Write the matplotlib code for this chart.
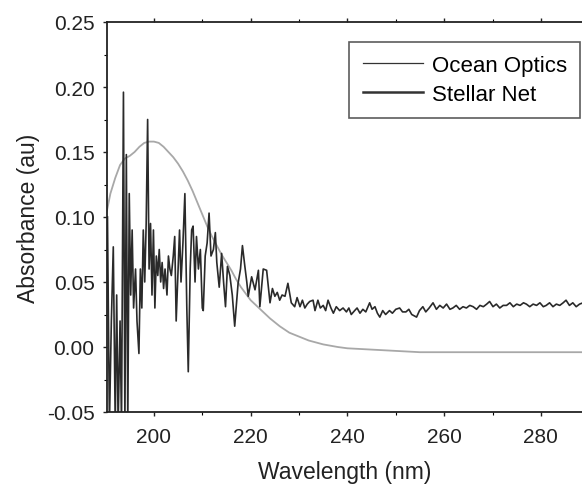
import matplotlib
matplotlib.use("Agg")
import matplotlib.pyplot as plt
from matplotlib.ticker import MultipleLocator

plt.rcParams['font.family'] = ['Liberation Sans', 'DejaVu Sans']

# Ocean Optics spectrum (smooth)
ocean_wl = [190.3, 191, 192, 193, 194, 195, 196, 197, 198, 199, 200, 201, 202, 203,
            204, 205, 206, 207, 208, 209, 210, 211, 212, 213, 214, 215, 216, 217,
            218, 219, 220, 222, 224, 226, 228, 230, 232, 235, 238, 240, 245, 250,
            255, 260, 270, 280, 290]
ocean_abs = [0.105, 0.118, 0.130, 0.140, 0.145, 0.147, 0.150, 0.154, 0.157, 0.158,
             0.158, 0.157, 0.154, 0.150, 0.146, 0.141, 0.135, 0.128, 0.120, 0.111,
             0.102, 0.093, 0.085, 0.078, 0.071, 0.065, 0.059, 0.052, 0.046, 0.041,
             0.036, 0.029, 0.022, 0.016, 0.011, 0.008, 0.005, 0.002, 0.000, -0.001,
             -0.002, -0.003, -0.004, -0.004, -0.004, -0.004, -0.004]

# Stellar Net spectrum (noisy)
stellar_wl = [190.4, 190.8, 191.2, 191.6, 192.0, 192.3, 192.6, 193.0, 193.3, 193.7,
              194.0, 194.3, 194.6, 194.9, 195.2, 195.5, 195.8, 196.2, 196.5, 196.9,
              197.2, 197.5, 197.8, 198.1, 198.4, 198.7, 199.0, 199.3, 199.6, 199.9,
              200.2, 200.5, 200.8, 201.1, 201.4, 201.7, 202.0, 202.3, 202.7, 203.0,
              203.3, 203.6, 204.0, 204.3, 204.6, 205.0, 205.3, 205.6, 206.0, 206.4,
              206.8, 207.1, 207.5, 207.8, 208.1, 208.5, 208.8, 209.2, 209.6, 210.0,
              210.2, 210.6, 211.0, 211.4, 211.8, 212.3, 212.7, 213.0, 213.5, 214.0,
              214.4, 214.8, 215.2, 215.7, 216.2, 216.7, 217.1, 217.4, 217.9, 218.3,
              218.8, 219.2, 219.5, 220.2, 220.9, 221.6, 221.9, 222.6, 223.3, 224.0,
              224.5, 225.0, 225.5, 226.0, 226.5, 227.1, 227.7, 228.4, 229.1, 229.6,
              230.2, 230.7, 231.2, 231.7, 232.2, 232.9, 233.3, 233.9, 234.4, 235.0,
              235.5, 236.0, 236.6, 237.1, 237.7, 238.4, 239.1, 239.8, 240.3, 240.8,
              241.5, 242.0, 242.6, 243.2, 243.8, 244.6, 245.1, 245.7, 246.2, 246.7,
              247.3, 247.9, 248.7, 249.3, 250.0, 250.8, 251.4, 252.1, 252.7, 253.3,
              254.3, 254.9, 255.6, 256.2, 256.9, 257.7, 258.4, 259.1, 259.8, 260.5,
              261.2, 261.8, 262.5, 263.2, 263.9, 264.6, 265.3, 266.0, 266.7, 267.4,
              268.1, 268.8, 269.4, 270.1, 270.8, 271.5, 272.2, 272.9, 273.6, 274.3,
              275.0, 275.7, 276.4, 277.0, 277.7, 278.4, 279.1, 279.8, 280.5, 281.1,
              281.8, 282.5, 283.2, 283.9, 284.6, 285.2, 285.9, 286.6, 287.3, 288.0,
              288.7, 289.4]
stellar_abs = [0.100, -0.060, 0.020, 0.077, -0.060, 0.040, -0.060, 0.020, -0.060, 0.196,
               -0.060, 0.148, -0.060, 0.118, 0.040, 0.090, 0.030, 0.060, 0.020, -0.005,
               0.060, 0.030, 0.090, 0.050, 0.095, 0.175, 0.060, 0.095, 0.040, 0.090,
               0.030, 0.070, 0.055, 0.075, 0.050, 0.065, 0.045, 0.060, 0.040, 0.070,
               0.060, 0.055, 0.070, 0.085, 0.020, 0.060, 0.090, 0.050, 0.080, 0.118,
               0.030, -0.019, 0.060, 0.090, 0.093, 0.050, 0.085, 0.060, 0.075, 0.030,
               0.028, 0.070, 0.080, 0.103, 0.070, 0.075, 0.088, 0.065, 0.046, 0.072,
               0.050, 0.031, 0.062, 0.055, 0.040, 0.016, 0.035, 0.049, 0.060, 0.078,
               0.062, 0.050, 0.039, 0.054, 0.044, 0.059, 0.031, 0.060, 0.059, 0.034,
               0.045, 0.039, 0.042, 0.036, 0.040, 0.039, 0.049, 0.034, 0.031, 0.038,
               0.031, 0.036, 0.030, 0.033, 0.035, 0.036, 0.028, 0.036, 0.030, 0.032,
               0.028, 0.036, 0.030, 0.026, 0.031, 0.028, 0.030, 0.027, 0.030, 0.025,
               0.028, 0.030, 0.026, 0.029, 0.027, 0.034, 0.029, 0.031, 0.026, 0.023,
               0.028, 0.025, 0.028, 0.026, 0.029, 0.030, 0.027, 0.027, 0.029, 0.025,
               0.023, 0.028, 0.031, 0.027, 0.030, 0.034, 0.029, 0.032, 0.030, 0.033,
               0.029, 0.030, 0.032, 0.029, 0.031, 0.030, 0.032, 0.031, 0.029, 0.032,
               0.031, 0.033, 0.035, 0.031, 0.033, 0.030, 0.032, 0.032, 0.034, 0.031,
               0.033, 0.032, 0.034, 0.033, 0.031, 0.033, 0.032, 0.034, 0.031, 0.032,
               0.034, 0.031, 0.033, 0.032, 0.034, 0.036, 0.032, 0.034, 0.031, 0.033,
               0.034, 0.032]

x_ticks = [200, 220, 240, 260, 280]
y_ticks = [-0.05, 0.00, 0.05, 0.10, 0.15, 0.20, 0.25]

W, H = 582, 489
fig = plt.figure(figsize=(W / 100, H / 100), dpi=100)
ax = fig.add_axes([107 / W, 76 / H, (W - 107) / W, 390 / H])

ax.plot(ocean_wl, ocean_abs, color='#a8a8a8', lw=1.3, label='Ocean Optics')
ax.plot(stellar_wl, stellar_abs, color='#2a2a2a', lw=1.2, label='Stellar Net')

ax.set_xlim(190.3, 288.5)
ax.set_ylim(-0.05, 0.25)
ax.set_xticks(x_ticks)
ax.set_yticks(y_ticks)
ax.set_yticklabels([f"{v:.2f}" for v in y_ticks])
ax.xaxis.set_minor_locator(MultipleLocator(10))
ax.yaxis.set_minor_locator(MultipleLocator(0.025))

ax.spines['right'].set_visible(False)
for s in ['left', 'bottom', 'top']:
    ax.spines[s].set_linewidth(1.3)
    ax.spines[s].set_color('#222222')

ax.tick_params(axis='both', which='major', direction='out', length=3, width=1,
               labelsize=15, colors='#222222', top=True, right=False)
ax.tick_params(axis='both', which='minor', direction='out', length=2, width=0.8,
               top=True, right=False)
ax.tick_params(axis='x', labeltop=False, pad=8)
ax.tick_params(axis='y', pad=6)

ax.set_xlabel('Wavelength (nm)', fontsize=16.5, labelpad=10, color='#222222')
ax.set_ylabel('Absorbance (au)', fontsize=16.5, labelpad=5, color='#222222')

leg = ax.legend(loc='upper right', bbox_to_anchor=(0.996, 0.949), fontsize=16,
                frameon=True, fancybox=False, edgecolor='#333333',
                handlelength=2.7, handletextpad=0.4, borderpad=0.6,
                labelspacing=0.35, borderaxespad=0.0)
leg.get_frame().set_linewidth(1.2)
for ln in leg.get_lines():
    ln.set_color('#333333')
leg.get_lines()[0].set_linewidth(0.9)
leg.get_lines()[1].set_linewidth(1.8)

fig.savefig('out.png', dpi=100)
